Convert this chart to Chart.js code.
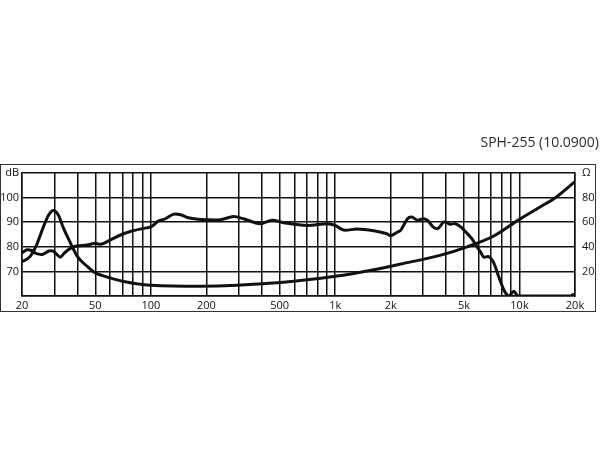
<!DOCTYPE html>
<html>
<head>
<meta charset="utf-8">
<script src="https://cdn.jsdelivr.net/npm/chart.js@4.4.1/dist/chart.umd.min.js"></script>
<style>
  body { margin: 0; background: #fff; }
  #wrap { position: relative; width: 600px; height: 450px; }
  #frame { position: absolute; left: 0; top: 164px; width: 594px; height: 146px; border: 1.5px solid #333; }
  #title { position: absolute; right: 1px; top: 132px; font: 14px "Open Sans", sans-serif; color: #2a2a2a; }
</style>
</head>
<body>
<div id="wrap">
  <div id="frame"></div>
  <div id="title">SPH-255 (10.0900)</div>
  <canvas id="myChart" width="600" height="450"></canvas>
</div>
<script>
// frequency response (dB, left axis)
const respFreq = [20, 21.3, 22.5, 24, 26, 28, 29.5, 31, 32.3, 34, 35.5, 37.5, 40, 45, 50, 53, 56, 60, 70, 80, 90, 100,
  110, 120, 132, 145, 160, 180, 200, 238, 281, 318, 391, 455, 524, 707, 906, 1000, 1110, 1310, 1620, 1890, 2000,
  2180, 2270, 2470, 2600, 2800, 3000, 3160, 3400, 3600, 3900, 4200, 4500, 4800, 5100, 5500, 5800, 6200, 6400,
  6800, 7200, 7700, 8200, 8500, 8800, 9300, 9800, 10500, 19000, 19600, 20000];
const respDb = [77.6, 78.8, 78.5, 77.2, 77, 78.3, 78.2, 76.8, 75.8, 77.5, 78.7, 79.8, 80.3, 80.7, 81.4, 81, 81.5, 82.7, 85.1, 86.5, 87.4, 88.1,
  90.5, 91.4, 93.2, 93, 91.8, 91.2, 91, 91, 92.3, 91.4, 89.4, 90.8, 89.8, 88.7, 89.4, 88.7, 86.8, 87.2, 86.5, 85.4, 84.5,
  86, 86.8, 91.4, 92.1, 90.8, 91.4, 90.8, 88.1, 87.4, 90.1, 89.2, 89.4, 88.1, 86.1, 83.4, 80.7, 77.4, 75.8,
  76, 74, 68, 62.7, 60.7, 60, 61.9, 60, 60, 60, 60.6, 60.3];

// impedance (ohm, right axis)
const impFreq = [20, 22.1, 24, 26.1, 27.8, 29.6, 31.6, 33.4, 36.4, 40, 44.8, 50, 60, 70, 90, 100, 185, 506, 1000,
  1620, 2270, 3700, 5200, 7300, 9800, 14000, 15300, 20000];
const impOhm = [28, 32, 41.5, 56, 65.5, 69.6, 65.5, 56, 44, 32, 24.6, 18.8, 14.8, 12, 9.4, 8.8, 8, 11, 16,
  21.4, 26, 33, 40, 49, 61.5, 75.4, 78.8, 93];

const xGrid = [20, 30, 40, 50, 60, 70, 80, 90, 100, 200, 300, 400, 500, 600, 700, 800, 900, 1000,
  2000, 3000, 4000, 5000, 6000, 7000, 8000, 9000, 10000, 20000];
const xLabels = {20: '20', 50: '50', 100: '100', 200: '200', 500: '500', 1000: '1k', 2000: '2k', 5000: '5k', 10000: '10k', 20000: '20k'};
const dbLabels = {110: 'dB', 100: '100', 90: '90', 80: '80', 70: '70'};
const ohmLabels = {100: 'Ω', 80: '80', 60: '60', 40: '40', 20: '20'};

const ink = '#111';
const tickFont = { family: 'Open Sans', size: 11 };

const config = {
  type: 'line',
  data: {
    datasets: [{
      data: respFreq.map((f, i) => ({ x: f, y: respDb[i] })),
      yAxisID: 'y',
      borderColor: ink,
      borderWidth: 3,
      pointRadius: 0,
      tension: 0.3
    }, {
      data: impFreq.map((f, i) => ({ x: f, y: impOhm[i] })),
      yAxisID: 'y2',
      borderColor: ink,
      borderWidth: 3,
      pointRadius: 0,
      cubicInterpolationMode: 'monotone'
    }]
  },
  options: {
    responsive: false,
    animation: false,
    layout: { padding: { top: 173, left: 0, right: 0, bottom: 136 } },
    plugins: { legend: { display: false }, tooltip: { enabled: false } },
    scales: {
      x: {
        type: 'logarithmic',
        min: 20,
        max: 20000,
        afterBuildTicks: s => { s.ticks = xGrid.map(v => ({ value: v })); },
        afterFit: s => { s.height = 18; },
        grid: { color: ink, lineWidth: 1.5, drawTicks: false },
        border: { color: ink, width: 1.5 },
        ticks: {
          autoSkip: false, maxRotation: 0, padding: 3, color: '#111', font: tickFont,
          callback: v => xLabels[v] || ''
        }
      },
      y: {
        position: 'left',
        min: 60,
        max: 110,
        afterFit: s => { s.width = 22; },
        grid: { color: ink, lineWidth: 1.5, drawTicks: false },
        border: { color: ink, width: 1.5 },
        ticks: {
          stepSize: 5, padding: 3, color: '#111', font: tickFont,
          callback: v => dbLabels[v] || ''
        }
      },
      y2: {
        position: 'right',
        min: 0,
        max: 100,
        afterFit: s => { s.width = 25; },
        grid: { display: false, drawTicks: false },
        border: { color: ink, width: 1.5 },
        ticks: {
          stepSize: 10, padding: 7, color: '#111', font: tickFont,
          callback: v => ohmLabels[v] || ''
        }
      }
    }
  }
};

const myChart = new Chart(document.getElementById('myChart'), config);
</script>
</body>
</html>
